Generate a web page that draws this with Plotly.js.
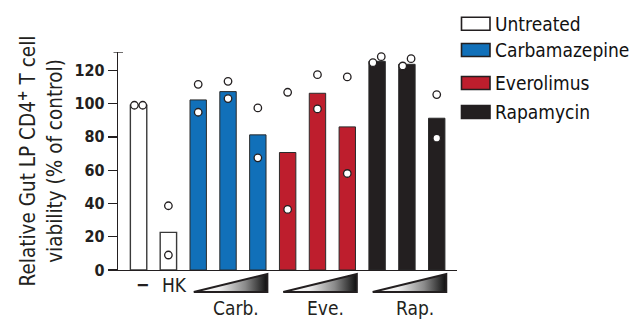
<!DOCTYPE html>
<html>
<head>
<meta charset="utf-8">
<script src="https://cdn.plot.ly/plotly-3.0.1.min.js"></script>
<style>
html,body{margin:0;padding:0;background:#fff;}
#chart{width:644px;height:323px;}
</style>
</head>
<body>
<div id="chart"></div>
<script>
// ---- data ----
var conditions = ['Untreated', 'HK', 'Carb. low', 'Carb. mid', 'Carb. high', 'Eve. low', 'Eve. mid', 'Eve. high', 'Rap. low', 'Rap. mid', 'Rap. high'];
var treatment = ['Untreated', 'Untreated', 'Carbamazepine', 'Carbamazepine', 'Carbamazepine', 'Everolimus', 'Everolimus', 'Everolimus', 'Rapamycin', 'Rapamycin', 'Rapamycin'];
var meanViability = [99, 22.6, 102.2, 107.2, 81.2, 70.6, 106.2, 86, 125.4, 123.6, 91.2];
var replicateA = [99, 38.6, 111.6, 113.4, 97.4, 106.8, 117.4, 116, 124.6, 122.6, 105.4];
var replicateB = [99, 9, 94.8, 103, 67.4, 36.4, 96.8, 58, 128.2, 127, 79.2];
var legendNames = ['Untreated', 'Carbamazepine', 'Everolimus', 'Rapamycin'];
var drugLabels = ['Carb.', 'Eve.', 'Rap.'];
var drugGroups = ['Carbamazepine', 'Everolimus', 'Rapamycin'];
var yTicks = [0, 20, 40, 60, 80, 100, 120];

// ---- styles ----
var colors = {Untreated: '#ffffff', Carbamazepine: '#1170b9', Everolimus: '#be1e2d', Rapamycin: '#231f20'};
var ink = '#231f20';
var FONT = '"DejaVu Sans Condensed", "DejaVu Sans", sans-serif';

var W = 644, H = 323;
var mL = 118, mR = 187, mT = 52, mB = 30;
var plotW = W - mL - mR, plotH = H - mT - mB;
function px2paperX(px) { return (px - mL) / plotW; }
function px2paperY(py) { return (H - mB - py) / plotH; }
var yDomLow = px2paperY(270);

var traces = [];
// bars per treatment group
legendNames.forEach(function (g) {
  var xs = [], ys = [];
  treatment.forEach(function (t, i) { if (t === g) { xs.push(i); ys.push(meanViability[i]); } });
  traces.push({
    type: 'bar', x: xs, y: ys, width: 0.55, showlegend: false, hoverinfo: 'skip',
    marker: {color: colors[g], line: {color: g === 'Untreated' ? '#3a3a3a' : '#2b2b2b', width: g === 'Untreated' ? 1.4 : 1}}
  });
});

// replicate points (side by side when they overlap)
var px = [], py = [];
for (var i = 0; i < conditions.length; i++) {
  var close = Math.abs(replicateA[i] - replicateB[i]) < 8;
  var a = replicateA[i], b = replicateB[i];
  var lo = Math.min(a, b), hi = Math.max(a, b);
  px.push(close ? i - 0.14 : i); py.push(lo);
  px.push(close ? i + 0.14 : i); py.push(hi);
}
traces.push({
  type: 'scatter', mode: 'markers', x: px, y: py, showlegend: false, hoverinfo: 'skip', cliponaxis: false,
  marker: {size: 7.5, color: '#ffffff', line: {color: ink, width: 1.3}}
});

// dose wedges below the axis
var annotations = [];
drugGroups.forEach(function (g, k) {
  var idx = [];
  treatment.forEach(function (t, i) { if (t === g) idx.push(i); });
  var x0 = idx[0] - 0.15, x1 = idx[idx.length - 1] + 0.32;
  traces.push({
    type: 'scatter', mode: 'lines', xaxis: 'x', yaxis: 'y2',
    x: [x0, x1, x1, x0], y: [0, 1, 0, 0], fill: 'toself',
    fillgradient: {type: 'horizontal', colorscale: [[0, '#ffffff'], [0.35, '#eeeeee'], [0.7, '#8a8a8a'], [1, '#0d0d0d']]},
    line: {color: ink, width: 2}, showlegend: false, hoverinfo: 'skip'
  });
  annotations.push({
    text: drugLabels[k], xref: 'x', yref: 'paper', x: idx[1] + 0.27, y: px2paperY(308),
    showarrow: false, xanchor: 'center', yanchor: 'middle', font: {family: FONT, size: 19, color: ink}
  });
});

annotations.push({text: '<b>−</b>', xref: 'x', yref: 'paper', x: 0.14, y: px2paperY(284), showarrow: false,
  xanchor: 'center', yanchor: 'middle', font: {family: FONT, size: 18, color: ink}});
annotations.push({text: 'HK', xref: 'x', yref: 'paper', x: 1.22, y: px2paperY(285), showarrow: false,
  xanchor: 'center', yanchor: 'middle', font: {family: FONT, size: 19, color: ink}});

// legend (drawn manually to match boxed swatches)
var legendY = [23.7, 50, 83, 112];
var shapes = [];
legendNames.forEach(function (g, k) {
  var yc = legendY[k];
  shapes.push({type: 'rect', xref: 'paper', yref: 'paper',
    x0: px2paperX(461.5), x1: px2paperX(490), y0: px2paperY(yc + 6.5), y1: px2paperY(yc - 6.5),
    fillcolor: colors[g], line: {color: ink, width: 1.6}});
  annotations.push({text: g, xref: 'paper', yref: 'paper', x: px2paperX(493), y: px2paperY(yc),
    showarrow: false, xanchor: 'left', yanchor: 'middle', font: {family: FONT, size: 19, color: '#111'}});
});
// cap on top of y axis
shapes.push({type: 'line', xref: 'paper', yref: 'y', x0: px2paperX(113.5), x1: px2paperX(123), y0: 131, y1: 131,
  line: {color: ink, width: 1.3}});

var layout = {
  width: W, height: H, margin: {l: mL, r: mR, t: mT, b: mB},
  paper_bgcolor: '#fff', plot_bgcolor: 'rgba(0,0,0,0)',
  barmode: 'overlay', showlegend: false,
  font: {family: FONT, color: ink},
  xaxis: {range: [-0.69, 10.68], showgrid: false, zeroline: false, showticklabels: false, ticks: '',
    showline: true, linecolor: ink, linewidth: 1.3, anchor: 'y', fixedrange: true},
  yaxis: {domain: [yDomLow, 1], range: [0, 131], showgrid: false, zeroline: false,
    tickvals: yTicks, ticks: 'outside', ticklen: 9, tickwidth: 1.3, tickcolor: ink,
    showline: true, linecolor: ink, linewidth: 1.3,
    tickfont: {family: FONT, size: 16, color: ink, weight: 'bold'},
    title: {text: 'Relative Gut LP CD4<sup><b>+</b></sup> T cell<br>viability (% of control)',
      font: {family: FONT, size: 20.5, color: ink}, standoff: 6}},
  yaxis2: {domain: [0, yDomLow], range: [-1 / 18, 22 / 18], visible: false, anchor: 'x', fixedrange: true},
  shapes: shapes, annotations: annotations
};

Plotly.newPlot('chart', traces, layout, {displayModeBar: false, staticPlot: true});
</script>
</body>
</html>
